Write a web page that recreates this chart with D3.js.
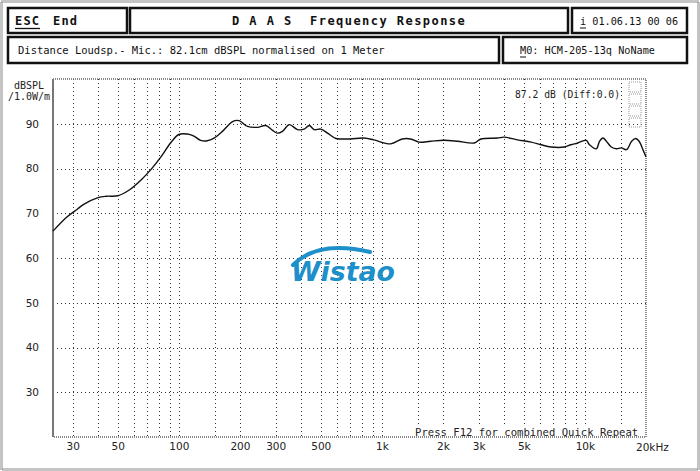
<!DOCTYPE html>
<html><head><meta charset="utf-8">
<script src="https://cdn.jsdelivr.net/npm/d3@7/dist/d3.min.js"></script>
<style>html,body{margin:0;padding:0;background:#fff;}svg{display:block;}</style>
</head><body>
<script>
// ---- data ----
const freqs = [24, 28, 31.6, 34, 40, 44, 50, 57, 65, 73, 82, 91, 100, 110, 118, 128, 138, 149, 164, 184, 198, 218, 244, 268, 290, 306, 324, 350, 384, 414, 439, 464, 500, 540, 594, 627, 700, 815, 912, 1105, 1260, 1385, 1525, 1740, 2025, 2357, 2850, 3075, 3713, 4000, 4660, 5430, 6090, 6800, 7940, 8530, 9230, 10150, 10540, 11380, 11820, 12280, 12760, 13500, 14300, 15150, 16020, 17000, 17800, 18500, 19400, 20000];
const spl = [66, 69.1, 70.9, 72, 73.5, 73.8, 73.9, 75.2, 77.4, 79.8, 82.7, 85.7, 87.6, 87.7, 87.3, 86.3, 86.2, 86.8, 88.3, 90.5, 90.7, 89.4, 89.2, 89.6, 88.5, 87.9, 88.3, 89.8, 88.7, 88.8, 89.6, 88.7, 88.8, 87.9, 86.7, 86.6, 86.6, 86.8, 86.4, 85.5, 86.6, 86.6, 85.9, 86.1, 86.3, 86.1, 85.7, 86.6, 86.8, 87.0, 86.4, 85.9, 85.3, 84.8, 84.8, 85.3, 85.7, 86.3, 85.3, 84.4, 86.1, 86.8, 86.1, 84.8, 84.4, 84.6, 84.2, 86.1, 86.7, 86.1, 84.0, 82.6];
const yTicks = [30, 40, 50, 60, 70, 80, 90];
const xGrid = [30,40,50,60,70,80,90,100,150,200,300,400,500,600,700,800,900,1000,1500,2000,3000,4000,5000,6000,7000,8000,9000,10000,15000];
const xTickVals = [30, 50, 100, 200, 300, 500, 1000, 2000, 3000, 5000, 10000];
const xTickLabels = ["30", "50", "100", "200", "300", "500", "1k", "2k", "3k", "5k", "10k"];
const lastLabel = "20kHz";
const headerLeft = "End";
const headerEsc = "ESC";
const title = "D A A S  Frequency Response";
const dateText = " 01.06.13 00 06";
const infoText = "Distance Loudsp.- Mic.: 82.1cm dBSPL normalised on 1 Meter";
const modelText = "0: HCM-205-13q NoName";
const levelText = "87.2 dB (Diff:0.0)";
const footText = "Press F12 for combined Quick Repeat";
const yUnit = ["dBSPL", "/1.0W/m"];

const W = 700, H = 471;
const mono = "'DejaVu Sans Mono', monospace";
const sans = "'DejaVu Sans', sans-serif";
const svg = d3.select("body").append("svg").attr("width", W).attr("height", H);
svg.append("rect").attr("width", W).attr("height", H).attr("fill", "#fff");
// outer hatched border
svg.append("rect").attr("x", 1.5).attr("y", 1.5).attr("width", W - 3).attr("height", H - 3)
  .attr("fill", "none").attr("stroke", "#8a8a8a").attr("stroke-width", 3).attr("stroke-dasharray", "1,1");

const x = d3.scaleLog().domain([24, 20000]).range([53, 646]);
const y = d3.scaleLinear().domain([20, 100]).range([437, 79]);

// header boxes
const boxes = [[8,8,119,25],[130,8,438,25],[572,8,115,25],[8,37,491,26],[503,37,184,26]];
svg.selectAll("rect.hb").data(boxes).enter().append("rect")
  .attr("x", d => d[0]).attr("y", d => d[1]).attr("width", d => d[2]).attr("height", d => d[3])
  .attr("fill", "#fff").attr("stroke", "#111").attr("stroke-width", 2.5);

svg.append("text").attr("x", 15).attr("y", 25).attr("font-family", mono).attr("font-weight", "bold")
  .attr("font-size", 12).attr("letter-spacing", 1.2).attr("fill", "#111").text(headerEsc);
svg.append("line").attr("x1", 15).attr("x2", 40).attr("y1", 28.5).attr("y2", 28.5).attr("stroke", "#111").attr("stroke-width", 1.3);
svg.append("text").attr("x", 53).attr("y", 25).attr("font-family", mono).attr("font-weight", "bold")
  .attr("font-size", 12).attr("letter-spacing", 1.2).attr("fill", "#111").text(headerLeft);
svg.append("text").attr("x", 232).attr("y", 25).attr("font-family", mono).attr("font-weight", "bold")
  .attr("font-size", 12).attr("letter-spacing", 1.45).attr("fill", "#111")
  .style("white-space", "pre").text(title);
svg.append("text").attr("x", 580).attr("y", 25).attr("font-family", mono).attr("font-size", 10.2)
  .attr("fill", "#111").style("white-space", "pre").text("i" + dateText);
svg.append("line").attr("x1", 580).attr("x2", 586).attr("y1", 28).attr("y2", 28).attr("stroke", "#111");
svg.append("text").attr("x", 18).attr("y", 54).attr("font-family", mono).attr("font-size", 10.5)
  .attr("fill", "#111").text(infoText);
svg.append("text").attr("x", 520).attr("y", 54).attr("font-family", mono).attr("font-size", 10.2)
  .attr("fill", "#111").text("M" + modelText);
svg.append("line").attr("x1", 520).attr("x2", 526).attr("y1", 57).attr("y2", 57).attr("stroke", "#111");

// grid
const g = svg.append("g");
g.selectAll("line.hg").data(yTicks).enter().append("line")
  .attr("x1", 53).attr("x2", 646).attr("y1", d => Math.round(y(d)) + 0.5).attr("y2", d => Math.round(y(d)) + 0.5)
  .attr("stroke", "#333").attr("stroke-width", 1).attr("stroke-dasharray", "1,3");
g.selectAll("line.vg").data(xGrid).enter().append("line")
  .attr("y1", 79).attr("y2", 437).attr("x1", d => Math.round(x(d)) + 0.5).attr("x2", d => Math.round(x(d)) + 0.5)
  .attr("stroke", "#333").attr("stroke-width", 1).attr("stroke-dasharray", "1,3");

// watermark logo
const logoC = "#1d8fca";
svg.append("path").attr("d", "M293,265 Q318,240 370,252").attr("fill", "none").attr("stroke", logoC).attr("stroke-width", 4).attr("stroke-linecap", "round");
svg.append("text").attr("x", 291).attr("y", 281).attr("font-family", sans).attr("font-weight", "bold")
  .attr("font-style", "italic").attr("font-size", 27).attr("textLength", 104).attr("lengthAdjust", "spacingAndGlyphs")
  .attr("fill", logoC).text("Wistao");

// frame
svg.append("rect").attr("x", 53).attr("y", 79).attr("width", 593).attr("height", 358)
  .attr("fill", "none").attr("stroke", "#666").attr("stroke-width", 1.5).attr("stroke-dasharray", "1,1");
svg.append("line").attr("x1", 53).attr("x2", 53).attr("y1", 79).attr("y2", 437).attr("stroke", "#777").attr("stroke-width", 2);

// small icon top-right
[[629,82,12,10],[629,94,12,10],[629,106,12,10],[629,118,12,9]].forEach(b => {
  svg.append("rect").attr("x", b[0]).attr("y", b[1]).attr("width", b[2]).attr("height", b[3])
    .attr("fill", "none").attr("stroke", "#999").attr("stroke-width", 1).attr("stroke-dasharray", "1,1");
});

// curve
const pts = freqs.map((f, i) => [f, spl[i]]);
svg.append("path").datum(pts)
  .attr("d", d3.line().x(d => x(d[0])).y(d => y(d[1])).curve(d3.curveCatmullRom.alpha(0.5)))
  .attr("fill", "none").attr("stroke", "#111").attr("stroke-width", 1.4);

// axes labels
const yAxis = d3.axisLeft(y).tickValues(yTicks).tickSize(0).tickPadding(0);
const ya = svg.append("g").attr("transform", "translate(39,0)").call(yAxis);
ya.select(".domain").remove();
ya.selectAll("text").attr("font-family", sans).attr("font-size", 10.5).attr("fill", "#222");

const xAxis = d3.axisBottom(x).tickValues(xTickVals).tickFormat((d, i) => xTickLabels[i]).tickSize(0).tickPadding(0);
const xa = svg.append("g").attr("transform", "translate(0,443)").call(xAxis);
xa.select(".domain").remove();
xa.selectAll("text").attr("font-family", sans).attr("font-size", 10.5).attr("fill", "#222");
svg.append("text").attr("x", x(20000) - 10).attr("y", 451).attr("font-family", sans).attr("font-size", 10.5)
  .attr("fill", "#222").text(lastLabel);

svg.append("text").attr("x", 14).attr("y", 89).attr("font-family", mono).attr("font-size", 10).attr("fill", "#222").text(yUnit[0]);
svg.append("text").attr("x", 8).attr("y", 100).attr("font-family", mono).attr("font-size", 10).attr("fill", "#222").text(yUnit[1]);

// level text
svg.append("rect").attr("x", 513).attr("y", 88).attr("width", 108).attr("height", 12).attr("fill", "#fff");
svg.append("text").attr("x", 515).attr("y", 98).attr("font-family", mono).attr("font-size", 9.7).attr("fill", "#222").text(levelText);

// footer text
svg.append("rect").attr("x", 414).attr("y", 426).attr("width", 228).attr("height", 10).attr("fill", "#fff");
svg.append("text").attr("x", 415).attr("y", 435.5).attr("font-family", mono).attr("font-size", 10.6)
  .attr("fill", "#222").text(footText);
</script>
</body></html>
